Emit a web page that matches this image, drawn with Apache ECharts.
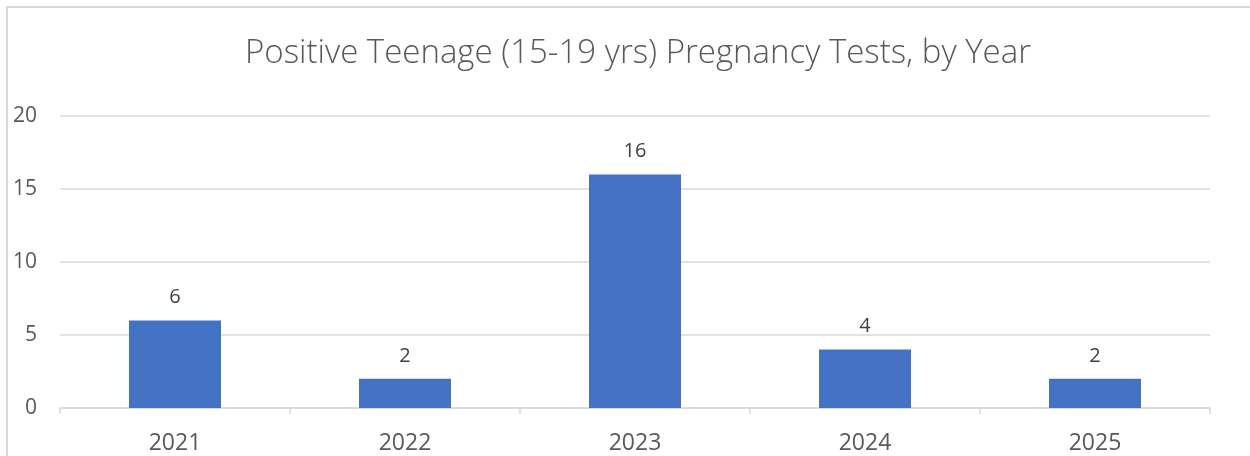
<!DOCTYPE html>
<html>
<head>
<meta charset="utf-8">
<script src="https://cdn.jsdelivr.net/npm/echarts@6/dist/echarts.min.js"></script>
<style>
html,body{margin:0;padding:0;background:#fff;}
#chart{width:1250px;height:456px;}
</style>
</head>
<body>
<div id="chart"></div>
<script>
// 数据
var years = ['2021', '2022', '2023', '2024', '2025'];
var positiveTests = [6, 2, 16, 4, 2];
var yTicks = [0, 5, 10, 15, 20];

var chart = echarts.init(document.getElementById('chart'));
var fontFam = '"Open Sans", "Noto Sans", sans-serif';

chart.setOption({
    animation: false,
    title: {
        text: 'Positive Teenage (15-19 yrs) Pregnancy Tests, by Year',
        left: 240,
        top: 32,
        textStyle: {color: '#595959', fontSize: 33, fontWeight: 300, fontFamily: fontFam}
    },
    graphic: [{
        type: 'rect',
        shape: {x: 7, y: 7, width: 1300, height: 500},
        style: {fill: 'none', stroke: '#d9d9d9', lineWidth: 2},
        silent: true
    }],
    grid: {left: 60, right: 40, top: 116, bottom: 48, containLabel: false},
    xAxis: {
        type: 'category',
        data: years,
        axisLine: {lineStyle: {color: '#d9d9d9', width: 1.5}},
        axisTick: {show: true, length: 6, lineStyle: {color: '#d9d9d9', width: 1.5}},
        axisLabel: {color: '#595959', fontSize: 23, fontFamily: fontFam, margin: 24}
    },
    yAxis: {
        type: 'value',
        min: yTicks[0],
        max: yTicks[yTicks.length - 1],
        interval: 5,
        axisLine: {show: false},
        axisTick: {show: false},
        splitLine: {lineStyle: {color: '#d9d9d9', width: 1.5}},
        axisLabel: {color: '#595959', fontSize: 21, fontFamily: fontFam, margin: 23}
    },
    series: [{
        type: 'bar',
        data: positiveTests,
        barWidth: '40%',
        itemStyle: {color: '#4472c4'},
        label: {
            show: true,
            position: 'top',
            distance: 13,
            color: '#404040',
            fontSize: 20,
            fontFamily: fontFam
        }
    }]
});
</script>
</body>
</html>
